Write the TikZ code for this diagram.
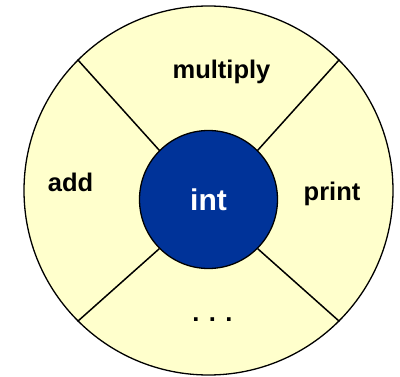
\documentclass[tikz,border=0pt]{standalone}
\usepackage{fontspec}
\setmainfont{Liberation Sans}
\usepackage{tikz}
\definecolor{ringyellow}{RGB}{255,255,204}
\definecolor{coreblue}{RGB}{0,51,153}

\begin{document}
\begin{tikzpicture}[x=1pt, y=-1pt, every node/.style={font=\bfseries\fontsize{25.5}{30}\selectfont},
    opname/.style={anchor=base}]
        \useasboundingbox (0,0) rectangle (400,377);

        % Outer ring
        \node (Ring) [draw, circle, line width=1.3pt, fill=ringyellow, minimum size=369pt, inner sep=0pt] at (208.5,190.5) {};

        % Core type
        \node (Core) [draw, circle, line width=1.3pt, fill=coreblue, text=white, minimum size=138pt, inner sep=0pt,
            font=\bfseries\fontsize{30}{36}\selectfont] at (208.5,199.5) {int};

        % Spokes
        \foreach \a in {45,135,225,315}
            \draw[line width=1.5pt] (Core.\a) -- (Ring.\a);

        % Operations
        \node (Multiply) [opname] at (221.5,79) {multiply};
        \node (Add) [opname] at (70.5,192) {add};
        \node (Print) [opname] at (332,201) {print};
        \node (More) [opname] at (212.5,322) {. . .};
    \end{tikzpicture}
\end{document}
